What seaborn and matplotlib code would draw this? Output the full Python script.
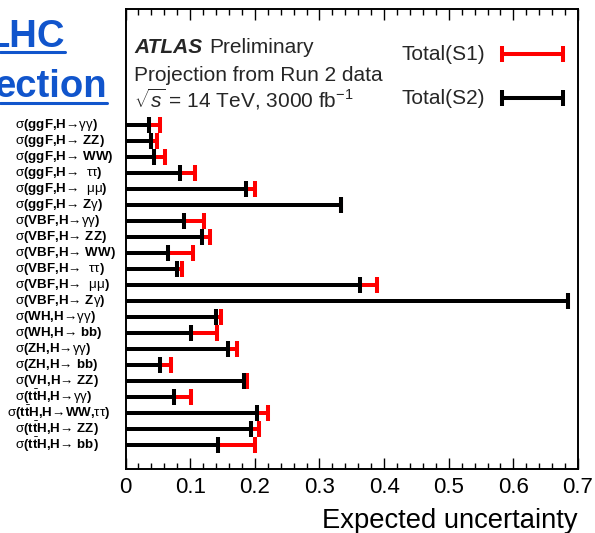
import matplotlib
matplotlib.use("Agg")
import matplotlib.pyplot as plt
import matplotlib.transforms as mtransforms
import pandas as pd
import seaborn as sns
from matplotlib.lines import Line2D
from matplotlib.ticker import MultipleLocator, FuncFormatter

# ---- data -----------------------------------------------------------------
G = r"$\mathrm{\gamma\gamma}$"
TT = r"$\mathrm{\tau\tau}$"
MM = r"$\mathrm{\mu\mu}$"
SIG = r"$\mathrm{\sigma}$"
TTBAR = r"t$\bar{\mathbf{t}}$H"
channels = [
    SIG + "(ggF,H→" + G + ")",
    SIG + "(ggF,H→ ZZ)",
    SIG + "(ggF,H→ WW)",
    SIG + "(ggF,H→  " + TT + ")",
    SIG + "(ggF,H→  " + MM + ")",
    SIG + "(ggF,H→ Z" + r"$\mathrm{\gamma}$" + ")",
    SIG + "(VBF,H→" + G + ")",
    SIG + "(VBF,H→ ZZ)",
    SIG + "(VBF,H→ WW)",
    SIG + "(VBF,H→  " + TT + ")",
    SIG + "(VBF,H→  " + MM + ")",
    SIG + "(VBF,H→ Z" + r"$\mathrm{\gamma}$" + ")",
    SIG + "(WH,H→" + G + ")",
    SIG + "(WH,H→ bb)",
    SIG + "(ZH,H→" + G + ")",
    SIG + "(ZH,H→ bb)",
    SIG + "(VH,H→ ZZ)",
    SIG + "(" + TTBAR + ",H→" + G + ")",
    SIG + "(" + TTBAR + ",H→WW," + TT + ")",
    SIG + "(" + TTBAR + ",H→ ZZ)",
    SIG + "(" + TTBAR + ",H→ bb)",
]
total_s1 = [0.053, 0.049, 0.061, 0.107, 0.200, 0.333,
            0.121, 0.130, 0.104, 0.088, 0.389, 0.685,
            0.148, 0.142, 0.172, 0.071, 0.188,
            0.101, 0.221, 0.207, 0.201]
total_s2 = [0.037, 0.040, 0.044, 0.084, 0.187, 0.333,
            0.090, 0.119, 0.066, 0.079, 0.363, 0.685,
            0.140, 0.102, 0.158, 0.053, 0.183,
            0.075, 0.204, 0.194, 0.143]
xticks = [0, 0.1, 0.2, 0.3, 0.4, 0.5, 0.6, 0.7]

df = pd.DataFrame({"channel": channels, "S1": total_s1, "S2": total_s2})

# ---- style ----------------------------------------------------------------
sns.set_theme(style="ticks")
plt.rcParams["font.family"] = ["Liberation Sans", "DejaVu Sans"]
plt.rcParams["mathtext.fontset"] = "custom"
plt.rcParams["mathtext.rm"] = "Liberation Sans"
plt.rcParams["mathtext.it"] = "Liberation Sans:italic"
plt.rcParams["mathtext.bf"] = "Liberation Sans:bold"
plt.rcParams["mathtext.sf"] = "Liberation Sans"

W, H = 595, 533
fig = plt.figure(figsize=(W / 100, H / 100), dpi=100)


def fx(x):
    return x / W


def fy(y):
    return 1 - y / H


ax = fig.add_axes([fx(125.5), fy(469), fx(578 - 125.5), (469 - 9) / H])

RED = "#ff0000"
BLACK = "#000000"
bar_w = 0.25
cap_ms = 11.5
cap_mew = 2.9

# S1 (red) underneath, S2 (black) on top
sns.barplot(data=df, x="S1", y="channel", order=channels, orient="h",
            color=RED, saturation=1, width=bar_w, linewidth=0, ax=ax)
ypos = list(range(len(channels)))
ax.plot(df["S1"], ypos, ls="none", marker="|", ms=cap_ms, mew=cap_mew,
        color=RED, zorder=3)
sns.barplot(data=df, x="S2", y="channel", order=channels, orient="h",
            color=BLACK, saturation=1, width=bar_w, linewidth=0, ax=ax)
ax.plot(df["S2"], ypos, ls="none", marker="|", ms=cap_ms, mew=cap_mew,
        color=BLACK, zorder=4)

ax.set_xlim(0, 0.7)
ax.set_ylim(21.5, -7.25)
ax.set_xticks(xticks)
ax.xaxis.set_minor_locator(MultipleLocator(0.02))
ax.xaxis.set_major_formatter(FuncFormatter(lambda v, p: "0" if abs(v) < 1e-9 else f"{v:.1f}"))
ax.tick_params(axis="x", which="both", direction="in", top=True, bottom=True,
               width=1.0, colors="black", labelsize=16, pad=6)
ax.tick_params(axis="x", which="major", length=8)
ax.tick_params(axis="x", which="minor", length=4.3)
ax.tick_params(axis="y", which="both", length=0, labelleft=False)
for sp in ax.spines.values():
    sp.set_visible(True)
    sp.set_linewidth(1.4)
    sp.set_color("black")
ax.set_ylabel("")
ax.set_xlabel("Expected uncertainty", loc="right", fontsize=19.7, labelpad=7,
              color="black")

# channel names, left-aligned in the margin
lab_tr = mtransforms.blended_transform_factory(fig.transFigure, ax.transData)
for i, name in enumerate(channels):
    x0 = 7 if "WW," in name else 15
    ax.text(fx(x0), i, name, transform=lab_tr, ha="left", va="center",
            fontsize=9.6, fontweight="bold", color="black", clip_on=False)

# ---- annotations ----------------------------------------------------------
fs = 15
fig.text(fx(134), fy(53), "ATLAS", fontsize=fs, fontweight="bold",
         fontstyle="italic", va="baseline")
fig.text(fx(209), fy(53), "Preliminary", fontsize=fs, va="baseline")
fig.text(fx(134), fy(81), "Projection from Run 2 data", fontsize=fs,
         va="baseline")
fig.text(fx(134), fy(108), r"$\sqrt{s}$ = 14 TeV, 3000 fb$^{-1}$",
         fontsize=fs, va="baseline")

# legend entries
for label, color, yc in [("Total(S1)", RED, 54), ("Total(S2)", BLACK, 98)]:
    fig.text(fx(401), fy(yc), label, fontsize=fs, va="center")
    fig.add_artist(Line2D([fx(502), fx(563)], [fy(yc), fy(yc)],
                          color=color, lw=2.9, solid_capstyle="butt"))
    fig.add_artist(Line2D([fx(502), fx(563)], [fy(yc), fy(yc)],
                          color=color, ls="none", marker="|", ms=cap_ms,
                          mew=cap_mew))

# slide heading fragments
BLUE = "#1155cc"
fig.text(fx(65), fy(47), "LHC", fontsize=27.5, fontweight="bold",
         color=BLUE, ha="right", va="baseline")
fig.add_artist(Line2D([0, fx(65)], [fy(52), fy(52)], color=BLUE, lw=2.2))
fig.text(fx(107), fy(97), "ection", fontsize=27.5, fontweight="bold",
         color=BLUE, ha="right", va="baseline")
fig.add_artist(Line2D([0, fx(107)], [fy(103), fy(103)], color=BLUE, lw=2.2))

fig.savefig("out.png", dpi=100)
